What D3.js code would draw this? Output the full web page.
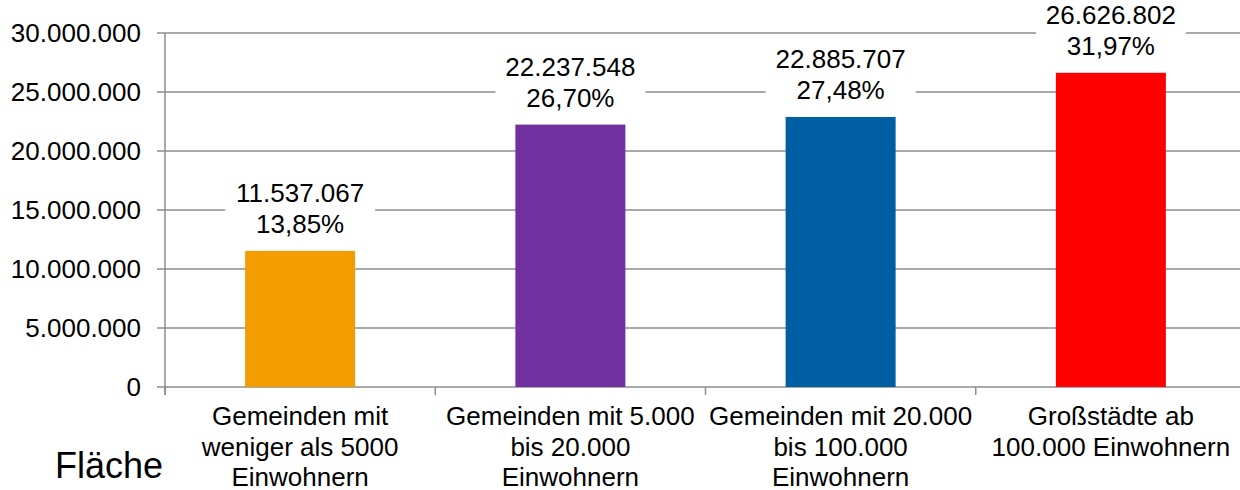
<!DOCTYPE html>
<html>
<head>
<meta charset="utf-8">
<script src="https://cdn.jsdelivr.net/npm/d3@7"></script>
<style>
  body { margin: 0; background: #fff; }
  svg text { font-family: "Liberation Sans", Arial, sans-serif; fill: #000; }
</style>
</head>
<body>
<div id="chart"></div>
<script>
// data
const categories = [
  ["Gemeinden mit", "weniger als 5000", "Einwohnern"],
  ["Gemeinden mit 5.000", "bis 20.000", "Einwohnern"],
  ["Gemeinden mit 20.000", "bis 100.000", "Einwohnern"],
  ["Großstädte ab", "100.000 Einwohnern"]
];
const values = [11537067, 22237548, 22885707, 26626802];
const percentLabels = ["13,85%", "26,70%", "27,48%", "31,97%"];
const barColors = ["#f39c00", "#7030a0", "#005ea2", "#ff0000"];
const yTicks = [0, 5000000, 10000000, 15000000, 20000000, 25000000, 30000000];
const sideLabel = "Fläche";

const width = 1240, height = 490;
const plot = { left: 165, right: 1246, top: 33, bottom: 387 };
const gridColor = "#8c8c8c";

const fmt = d3.formatLocale({ decimal: ",", thousands: ".", grouping: [3], currency: ["", "€"] }).format(",d");

const svg = d3.select("#chart").append("svg")
  .attr("width", width)
  .attr("height", height);

const idx = d3.range(values.length);

const x = d3.scaleBand()
  .domain(idx)
  .range([plot.left, plot.right]);

const xBar = d3.scaleBand()
  .domain(idx)
  .range([plot.left, plot.right])
  .paddingInner(0.593)
  .paddingOuter(0.2965);

const y = d3.scaleLinear()
  .domain([0, 30000000])
  .range([plot.bottom, plot.top]);

// gridlines
svg.append("g")
  .selectAll("line")
  .data(yTicks)
  .enter()
  .append("line")
  .attr("x1", plot.left - 8)
  .attr("x2", width)
  .attr("y1", d => y(d))
  .attr("y2", d => y(d))
  .attr("stroke", gridColor)
  .attr("stroke-width", 1.5);

// y axis line
svg.append("line")
  .attr("x1", plot.left).attr("x2", plot.left)
  .attr("y1", plot.top).attr("y2", plot.bottom + 8)
  .attr("stroke", gridColor)
  .attr("stroke-width", 1.5);

// y tick labels
svg.append("g")
  .selectAll("text")
  .data(yTicks)
  .enter()
  .append("text")
  .attr("x", plot.left - 24)
  .attr("y", d => y(d) + 9)
  .attr("text-anchor", "end")
  .style("font-size", "26px")
  .text(d => fmt(d));

// category boundary ticks
svg.append("g")
  .selectAll("line")
  .data(idx.concat([values.length]))
  .enter()
  .append("line")
  .attr("x1", d => d < values.length ? x(d) : x(values.length - 1) + x.bandwidth())
  .attr("x2", d => d < values.length ? x(d) : x(values.length - 1) + x.bandwidth())
  .attr("y1", plot.bottom)
  .attr("y2", plot.bottom + 8)
  .attr("stroke", gridColor)
  .attr("stroke-width", 1.5);

// bars
svg.append("g")
  .selectAll("rect")
  .data(idx)
  .enter()
  .append("rect")
  .attr("x", i => xBar(i))
  .attr("width", xBar.bandwidth())
  .attr("y", i => y(values[i]))
  .attr("height", i => y(0) - y(values[i]))
  .attr("fill", i => barColors[i]);

// data labels with white box
const labels = svg.append("g")
  .selectAll("g")
  .data(idx)
  .enter()
  .append("g")
  .attr("transform", i => `translate(${x(i) + x.bandwidth() / 2},${y(values[i])})`);

labels.append("rect")
  .attr("x", -75)
  .attr("width", 150)
  .attr("y", -71)
  .attr("height", 62)
  .attr("fill", "#fff");

labels.append("text")
  .attr("text-anchor", "middle")
  .attr("y", -49)
  .style("font-size", "26px")
  .text(i => fmt(values[i]));

labels.append("text")
  .attr("text-anchor", "middle")
  .attr("y", -18)
  .style("font-size", "26px")
  .text(i => percentLabels[i]);

// category labels
const catText = svg.append("g")
  .selectAll("text")
  .data(idx)
  .enter()
  .append("text")
  .attr("text-anchor", "middle")
  .style("font-size", "26px");

catText.selectAll("tspan")
  .data(i => categories[i].map(line => ({ i, line })))
  .enter()
  .append("tspan")
  .attr("x", d => x(d.i) + x.bandwidth() / 2)
  .attr("y", (d, k) => 425 + k * 30.5)
  .text(d => d.line);

// side label
svg.append("text")
  .attr("x", 55)
  .attr("y", 478)
  .style("font-size", "36px")
  .text(sideLabel);
</script>
</body>
</html>
